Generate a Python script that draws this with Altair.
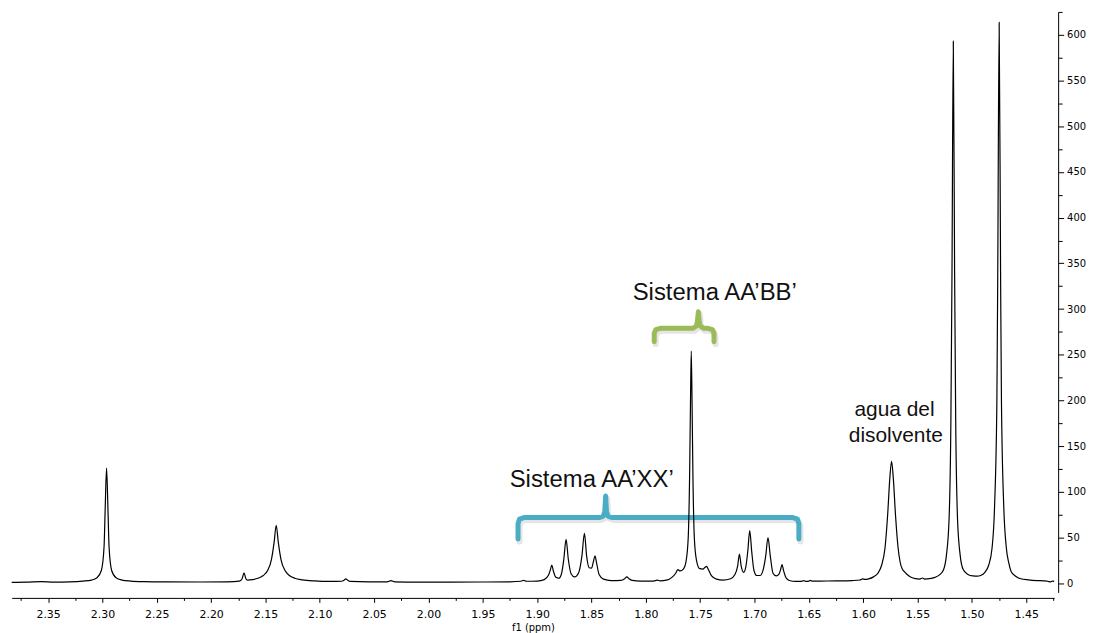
import altair as alt
import pandas as pd

# ---- spectrum trace (ppm, intensity) ----
ppm = [
    2.3835, 2.370, 2.356, 2.345, 2.330, 2.318, 2.310, 2.305, 2.301, 2.2985, 2.2975, 2.2962,
    2.2949, 2.2939, 2.2915, 2.2875, 2.282, 2.274, 2.262, 2.240, 2.210, 2.185, 2.174, 2.1715,
    2.1697, 2.1680, 2.1665, 2.162, 2.157, 2.152, 2.148, 2.1445, 2.142, 2.1401, 2.1382, 2.1357,
    2.132, 2.128, 2.123, 2.116, 2.105, 2.090, 2.080, 2.0775, 2.0760, 2.0745, 2.072, 2.055,
    2.038, 2.0345, 2.031, 2.010, 1.980, 1.950, 1.925, 1.915, 1.9125, 1.910, 1.900, 1.8935,
    1.8895, 1.8878, 1.8865, 1.8852, 1.8828, 1.8800, 1.8775, 1.8755, 1.8734, 1.8713, 1.8688,
    1.8655, 1.8620, 1.8588, 1.8565, 1.8545, 1.8522, 1.8500, 1.8482, 1.8468, 1.8453, 1.8430,
    1.8390, 1.8320, 1.8230, 1.8195, 1.8175, 1.8155, 1.8125, 1.8050, 1.7930, 1.7895, 1.7870,
    1.7810, 1.7760, 1.7725, 1.7705, 1.7685, 1.7655, 1.7630, 1.7610, 1.7597, 1.7589, 1.7582,
    1.7575, 1.7567, 1.7554, 1.7534, 1.7505, 1.7475, 1.7455, 1.7441, 1.7425, 1.7395, 1.7350,
    1.7290, 1.7220, 1.7180, 1.7155, 1.7139, 1.7123, 1.7100, 1.7080, 1.7062, 1.7044, 1.7026,
    1.7005, 1.6980, 1.6950, 1.6920, 1.6897, 1.6876, 1.6855, 1.6830, 1.6800, 1.6775, 1.6760,
    1.6747, 1.6733, 1.6710, 1.6680, 1.6620, 1.6570, 1.6548, 1.6525, 1.6500, 1.6487, 1.6470,
    1.6400, 1.6250, 1.6100, 1.6030, 1.6005, 1.5985, 1.5950, 1.5905, 1.5865, 1.5830, 1.5800,
    1.5775, 1.5755, 1.5739, 1.5723, 1.5703, 1.5680, 1.5660, 1.5640, 1.5615, 1.5590, 1.5560,
    1.5520, 1.5480, 1.5455, 1.5435, 1.5390, 1.5340, 1.5290, 1.5260, 1.5235, 1.5210, 1.5193,
    1.5183, 1.5171, 1.5159, 1.5149, 1.5132, 1.5107, 1.5080, 1.5040, 1.4990, 1.4950, 1.4920,
    1.4880, 1.4845, 1.4815, 1.4791, 1.4770, 1.4762, 1.4749, 1.4736, 1.4728, 1.4707, 1.4685,
    1.4660, 1.4639, 1.4600, 1.4550, 1.4480, 1.4400, 1.4340, 1.4300, 1.4280, 1.4260, 1.4243,
]
intensity = [
    1.0, 1.2, 1.8, 1.3, 1.6, 2.4, 3.5, 6, 14, 40, 80, 126,
    80, 40, 14, 6, 3.5, 2.4, 1.8, 1.5, 1.4, 1.6, 2.4, 5,
    11.5, 5, 3.5, 4, 5.5, 8.5, 14, 26, 45, 63.5, 45, 26,
    14, 8.5, 5.5, 3.8, 2.6, 2.0, 2.2, 3.5, 4.8, 3.5, 2.0, 1.5,
    1.6, 2.8, 1.6, 1.3, 1.3, 1.4, 1.6, 2.2, 3.2, 2.2, 2.4, 4,
    9, 15, 20, 14, 6.5, 5.5, 11, 26, 48, 26, 10.5,
    7, 11, 30, 54.5, 30, 17, 16.5, 24, 30, 22, 9.5,
    4.5, 3, 3.2, 5, 7, 5, 3.2, 2.4, 2.4, 3.4, 2.6,
    3.4, 6.5, 11, 15, 13.5, 15.5, 24, 50, 120, 200, 254,
    200, 120, 50, 25, 16, 15.5, 17.5, 18.5, 15, 8, 4.5,
    3.5, 5, 9.5, 19, 32, 19, 12, 18, 35, 57.5, 35,
    14, 8.5, 8.5, 15, 30, 50, 30, 11, 8, 10, 15,
    20.5, 14, 6, 3, 2, 2, 3, 2, 2.3, 3.2, 2.3,
    2.4, 2.6, 3, 3.6, 4.8, 4.2, 4.8, 7, 11, 20, 38,
    75, 115, 133.5, 115, 75, 40, 23, 15.5, 12, 9, 6.5,
    5, 4.6, 5.8, 4.6, 5, 6.5, 10, 15, 30, 70, 180,
    340, 593, 340, 180, 70, 30, 15, 10, 8, 7.8, 8.5,
    12, 20, 38, 85, 200, 340, 613.5, 340, 200, 85, 41,
    22, 13, 8, 5, 3.8, 3, 2.7, 2.2, 1.4, 2.4, 2.0,
]

# ---- bracket annotations (ppm, intensity units) ----
xx_ppm = [1.9176, 1.9176, 1.9162, 1.9121, 1.8425, 1.8392, 1.8378, 1.8370,
          1.8362, 1.8348, 1.8315, 1.6647, 1.6606, 1.6592, 1.6592]
xx_val = [48.3, 65.0, 70.3, 71.9, 71.9, 73.5, 78.0, 95.4,
          78.0, 73.5, 71.9, 71.9, 70.3, 65.0, 48.3]
bb_ppm = [1.7923, 1.7923, 1.7908, 1.7868, 1.7565, 1.7535, 1.7525, 1.7517,
          1.7509, 1.7499, 1.7469, 1.7428, 1.7388, 1.7373, 1.7373]
bb_val = [264.3, 273.5, 277.5, 278.9, 278.9, 281.5, 287.0, 297.0,
          287.0, 281.5, 278.9, 278.9, 277.5, 273.5, 264.3]

# ---- text labels ----
big_labels = ["Sistema AA\u2019BB\u2019", "Sistema AA\u2019XX\u2019"]
big_ppm = [1.7366, 1.8498]
big_val = [309.7, 104.9]
water_labels = ["agua del", "disolvente"]
water_ppm = [1.5712, 1.5700]
water_val = [183.3, 154.0]

x_major = [2.35, 2.30, 2.25, 2.20, 2.15, 2.10, 2.05, 2.00, 1.95, 1.90,
           1.85, 1.80, 1.75, 1.70, 1.65, 1.60, 1.55, 1.50, 1.45]
x_minor = [2.375, 2.325, 2.275, 2.225, 2.175, 2.125, 2.075, 2.025, 1.975, 1.925,
           1.875, 1.825, 1.775, 1.725, 1.675, 1.625, 1.575, 1.525, 1.475, 1.425]
y_major = [0, 50, 100, 150, 200, 250, 300, 350, 400, 450, 500, 550, 600]
y_minor = [25, 75, 125, 175, 225, 275, 325, 375, 425, 475, 525, 575, 625]

spec = pd.DataFrame({"ppm": ppm, "v": intensity})
brk = pd.DataFrame({
    "ppm": xx_ppm + bb_ppm,
    "v": xx_val + bb_val,
    "i": list(range(len(xx_ppm))) + list(range(len(bb_ppm))),
    "g": ["xx"] * len(xx_ppm) + ["bb"] * len(bb_ppm),
})
shadow = brk.assign(ppm=brk["ppm"] - 0.0014, v=brk["v"] - 2.7)
big = pd.DataFrame({"t": big_labels, "ppm": big_ppm, "v": big_val})
water = pd.DataFrame({"t": water_labels, "ppm": water_ppm, "v": water_val})

xs = alt.Scale(domain=[2.3835, 1.4243], nice=False, zero=False)
ys = alt.Scale(domain=[-10, 625], nice=False, zero=False)

axis_common = dict(domainColor="black", tickColor="black", labelColor="black",
                   labelFont="DejaVu Sans", grid=False, labelFlush=False,
                   labelOverlap=False, domainWidth=1, tickWidth=1)

x_major_axis = alt.Axis(values=x_major, format=".2f", orient="bottom", offset=5.5,
                        tickSize=4.5, labelFontSize=11, labelPadding=6,
                        title="f1 (ppm)", titleFont="DejaVu Sans", titleFontSize=10,
                        titleFontWeight="normal", titleColor="black", titlePadding=3,
                        **axis_common)
y_major_axis = alt.Axis(values=y_major, orient="right", offset=4, tickSize=5.5,
                        labelFontSize=10, labelPadding=3, title="", **axis_common)
x_minor_axis = alt.Axis(values=x_minor, orient="bottom", offset=5.5, tickSize=2.5,
                        labels=False, domain=False, title="", grid=False, tickColor="black")
y_minor_axis = alt.Axis(values=y_minor, orient="right", offset=4, tickSize=4,
                        labels=False, domain=False, title="", grid=False, tickColor="black")

spectrum = alt.Chart(spec).mark_line(color="black", strokeWidth=1.2, interpolate="monotone").encode(
    x=alt.X("ppm:Q", scale=xs, axis=x_major_axis),
    y=alt.Y("v:Q", scale=ys, axis=y_major_axis),
)
minor = alt.Chart(spec).mark_line(strokeOpacity=0).encode(
    x=alt.X("ppm:Q", scale=xs, axis=x_minor_axis),
    y=alt.Y("v:Q", scale=ys, axis=y_minor_axis),
)
shadow_l = alt.Chart(shadow).mark_line(strokeWidth=6, color="#8a8a8a", opacity=0.22,
                                       strokeCap="round", strokeJoin="round").encode(
    x=alt.X("ppm:Q", scale=xs, axis=None),
    y=alt.Y("v:Q", scale=ys, axis=None),
    detail="g:N",
    order="i:Q",
)
brackets = alt.Chart(brk).mark_line(strokeWidth=5, strokeCap="round", strokeJoin="round").encode(
    x=alt.X("ppm:Q", scale=xs, axis=None),
    y=alt.Y("v:Q", scale=ys, axis=None),
    color=alt.Color("g:N", scale=alt.Scale(domain=["xx", "bb"], range=["#4BACC6", "#9BBB59"]),
                    legend=None),
    order="i:Q",
)
big_text = alt.Chart(big).mark_text(font="Liberation Sans", fontSize=24, color="#111",
                                    align="center", baseline="alphabetic").encode(
    x=alt.X("ppm:Q", scale=xs, axis=None),
    y=alt.Y("v:Q", scale=ys, axis=None),
    text="t:N",
)
water_text = alt.Chart(water).mark_text(font="Liberation Sans", fontSize=21, color="#111",
                                        align="center", baseline="alphabetic").encode(
    x=alt.X("ppm:Q", scale=xs, axis=None),
    y=alt.Y("v:Q", scale=ys, axis=None),
    text="t:N",
)

chart = alt.layer(shadow_l, brackets, spectrum, minor, big_text, water_text).resolve_axis(
    x="independent", y="independent"
).properties(
    width=1047, height=583,
    autosize=alt.AutoSizeParams(type="none"),
    padding={"left": 3.7, "top": 2.6, "right": 36, "bottom": 40},
    background="white",
).configure_view(stroke=None)

chart.save("out.html", embed_options={"renderer": "svg", "actions": False})
